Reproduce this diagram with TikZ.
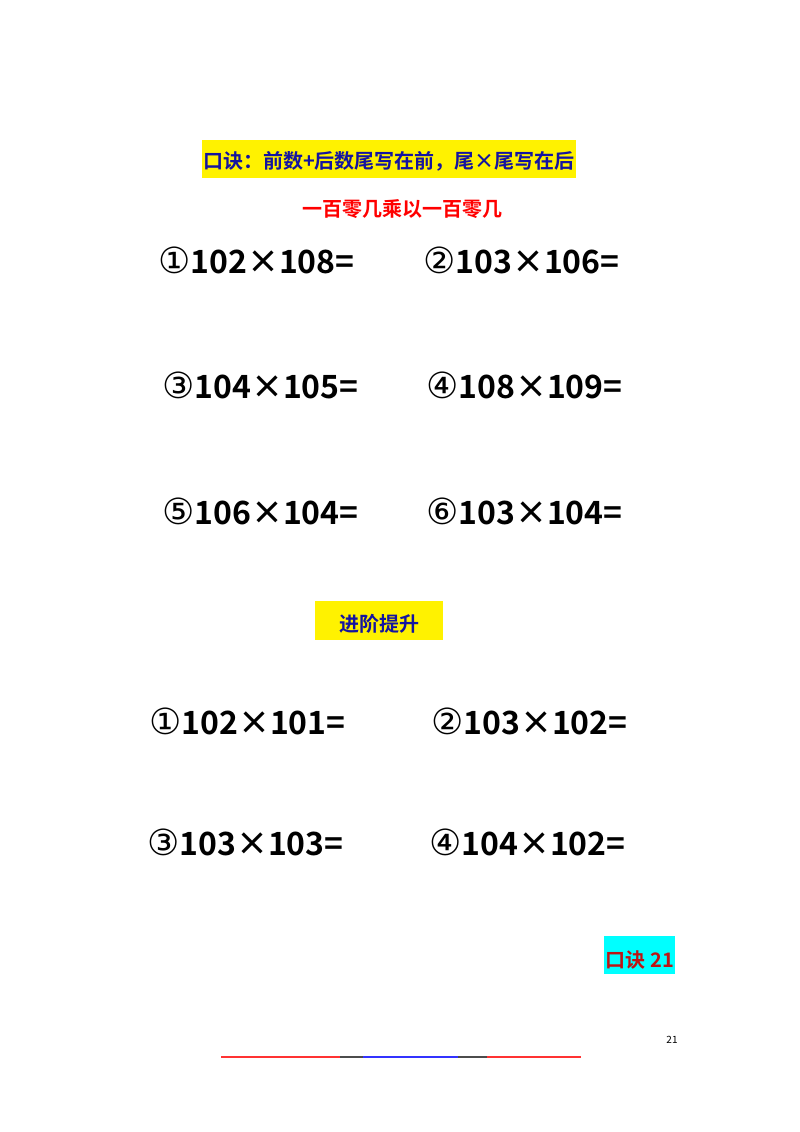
\documentclass[tikz,border=0pt]{standalone}
\usepackage{fontspec}
\setmainfont{Noto Sans CJK SC}[BoldFont={* Bold}]
\newfontfamily\cjk{Noto Sans CJK SC Bold}
\newfontfamily\circf{DejaVu Sans}
\newcommand{\cn}[1]{{\circf\fontsize{36}{38}\selectfont #1}}
\definecolor{cy}{RGB}{0,255,255}
\definecolor{hb}{RGB}{20,20,160}
\definecolor{kr}{RGB}{190,20,20}
\begin{document}
\begin{tikzpicture}[x=1pt,y=-1pt,
  eq/.style={anchor=west,inner sep=0pt,font=\cjk\fontsize{32}{34}\selectfont},
  hdr/.style={inner sep=0pt,font=\cjk\fontsize{20}{22}\selectfont}]
\useasboundingbox[fill=white] (0,0) rectangle (800,1132);
\fill[yellow] (202,140) rectangle (576,178);
\node[hdr,text=hb] (h1) at (389,161) {口诀：前数+后数尾写在前，尾×尾写在后};
\node[hdr,text=red] (h2) at (402,209) {一百零几乘以一百零几};
\node[eq] (e1) at (158,260) {\cn{①}102×108=};
\node[eq] (e2) at (423,260) {\cn{②}103×106=};
\node[eq] (e3) at (162,385) {\cn{③}104×105=};
\node[eq] (e4) at (426,385) {\cn{④}108×109=};
\node[eq] (e5) at (162,511) {\cn{⑤}106×104=};
\node[eq] (e6) at (426,511) {\cn{⑥}103×104=};
\fill[yellow] (315,601) rectangle (443,640);
\node[hdr,text=hb] (h3) at (379,624) {进阶提升};
\node[eq] (f1) at (149,721) {\cn{①}102×101=};
\node[eq] (f2) at (431,721) {\cn{②}103×102=};
\node[eq] (f3) at (147,842) {\cn{③}103×103=};
\node[eq] (f4) at (429,842) {\cn{④}104×102=};
\fill[cy] (604,936) rectangle (675,974);
\node[hdr,text=kr] (k) at (640,960) {口诀 21};
\node[font=\fontsize{10}{12}\selectfont] (p) at (672,1040) {21};
\draw[red!80,line width=1.2] (221,1057) -- (340,1057);
\draw[black!70,line width=1.2] (340,1057) -- (363,1057);
\draw[blue!80,line width=1.2] (363,1057) -- (458,1057);
\draw[black!70,line width=1.2] (458,1057) -- (487,1057);
\draw[red!80,line width=1.2] (487,1057) -- (581,1057);
\end{tikzpicture}
\end{document}
